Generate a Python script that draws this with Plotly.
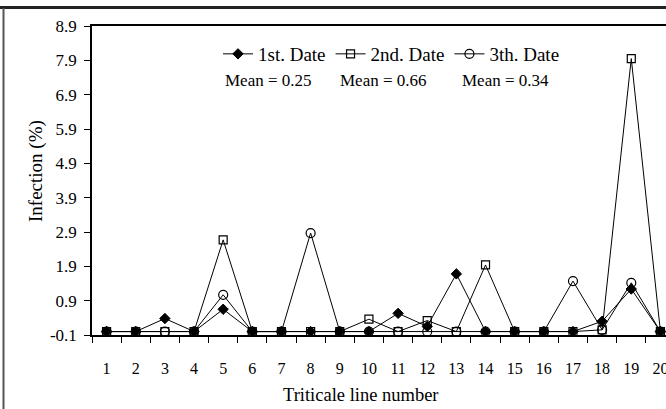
import plotly.graph_objects as go

lines = [str(i) for i in range(1, 21)]
date1 = [0, 0, 0.38, 0, 0.65, 0, 0, 0, 0, 0, 0.53, 0.15, 1.68, 0, 0, 0, 0, 0.3, 1.24, 0]
date2 = [0, 0, 0, 0, 2.67, 0, 0, 0, 0, 0.36, 0, 0.32, 0, 1.94, 0, 0, 0, 0.05, 7.95, 0]
date3 = [0, 0, 0, 0, 1.07, 0, 0, 2.87, 0, 0, 0, 0, 0, 0, 0, 0, 1.47, 0.05, 1.42, 0]
series_names = ["1st. Date", "2nd. Date", "3th. Date"]
mean_labels = ["Mean = 0.25", "Mean = 0.66", "Mean = 0.34"]
y_ticks = [-0.1, 0.9, 1.9, 2.9, 3.9, 4.9, 5.9, 6.9, 7.9, 8.9]
x_title = "Triticale line number"
y_title = "Infection (%)"

FONT = "Liberation Serif, Times New Roman, serif"
W, H = 666, 409
L, R, T, B = 92, 0, 26, 74
PW, PH = W - L - R, H - T - B

def px_x(x):
    return (x - L) / PW

def px_y(y):
    return 1 - (y - T) / PH

fig = go.Figure()
marker_styles = [
    dict(symbol="diamond", size=8, color="black", line=dict(color="black", width=1)),
    dict(symbol="square-open", size=8, color="black", line=dict(width=1.2)),
    dict(symbol="circle-open", size=9, color="black", line=dict(width=1.2)),
]
for name, vals, mk in zip(series_names, [date1, date2, date3], marker_styles):
    fig.add_trace(go.Scatter(
        x=lines, y=vals, name=name, mode="lines+markers",
        line=dict(color="black", width=1), marker=mk,
    ))

# mean annotations
for lab, xc in zip(mean_labels, [268, 383, 505]):
    fig.add_annotation(x=px_x(xc), y=px_y(80), xref="paper", yref="paper",
                       xanchor="center", yanchor="middle",
                       text=lab, showarrow=False, font=dict(family=FONT, size=17, color="black"))

# axis titles
fig.add_annotation(x=px_x(361), y=px_y(395), xref="paper", yref="paper",
                   xanchor="center", yanchor="middle", text=x_title, showarrow=False,
                   font=dict(family=FONT, size=18.5, color="black"))
fig.add_annotation(x=px_x(36), y=px_y(171), xref="paper", yref="paper",
                   xanchor="center", yanchor="middle", text=y_title, showarrow=False, textangle=-90,
                   font=dict(family=FONT, size=19, color="black"))

# outer frame
fig.add_shape(type="line", xref="paper", yref="paper", x0=px_x(0), x1=px_x(W), y0=px_y(7.5), y1=px_y(7.5),
              line=dict(color="#222", width=3))
fig.add_shape(type="line", xref="paper", yref="paper", x0=px_x(3.5), x1=px_x(3.5), y0=px_y(8), y1=px_y(H),
              line=dict(color="#555", width=2))

n_vis = PW / 29.15
fig.update_layout(
    width=W, height=H, margin=dict(l=L, r=R, t=T, b=B, autoexpand=False),
    paper_bgcolor="white", plot_bgcolor="white",
    font=dict(family=FONT, size=16, color="black"),
    showlegend=True,
    legend=dict(orientation="h", x=px_x(218), y=px_y(35), xanchor="left", yanchor="top",
                font=dict(family=FONT, size=19, color="black"), bgcolor="rgba(0,0,0,0)",
                itemwidth=30),
    xaxis=dict(type="category", range=[-0.5, -0.5 + n_vis], showgrid=False, zeroline=False,
               automargin=False,
               showline=True, linecolor="black", linewidth=1.5, mirror=True,
               ticks="outside", tickson="boundaries", ticklen=6, tickcolor="black", tickwidth=1,
               ticklabelstandoff=18,
               tickfont=dict(family=FONT, size=16, color="black")),
    yaxis=dict(range=[-0.1, 8.9], tickvals=y_ticks, ticktext=[f"{v:.1f}" for v in y_ticks],
               automargin=False,
               showgrid=False, zeroline=False, showline=True, linecolor="black", linewidth=1.5,
               ticks="outside", ticklen=6, tickcolor="black", tickwidth=1, ticklabelstandoff=4,
               tickfont=dict(family=FONT, size=17, color="black")),
)

fig.write_html("out.html", config={"displayModeBar": False},
               post_script="document.body.style.margin='0';document.body.style.overflow='hidden';")
